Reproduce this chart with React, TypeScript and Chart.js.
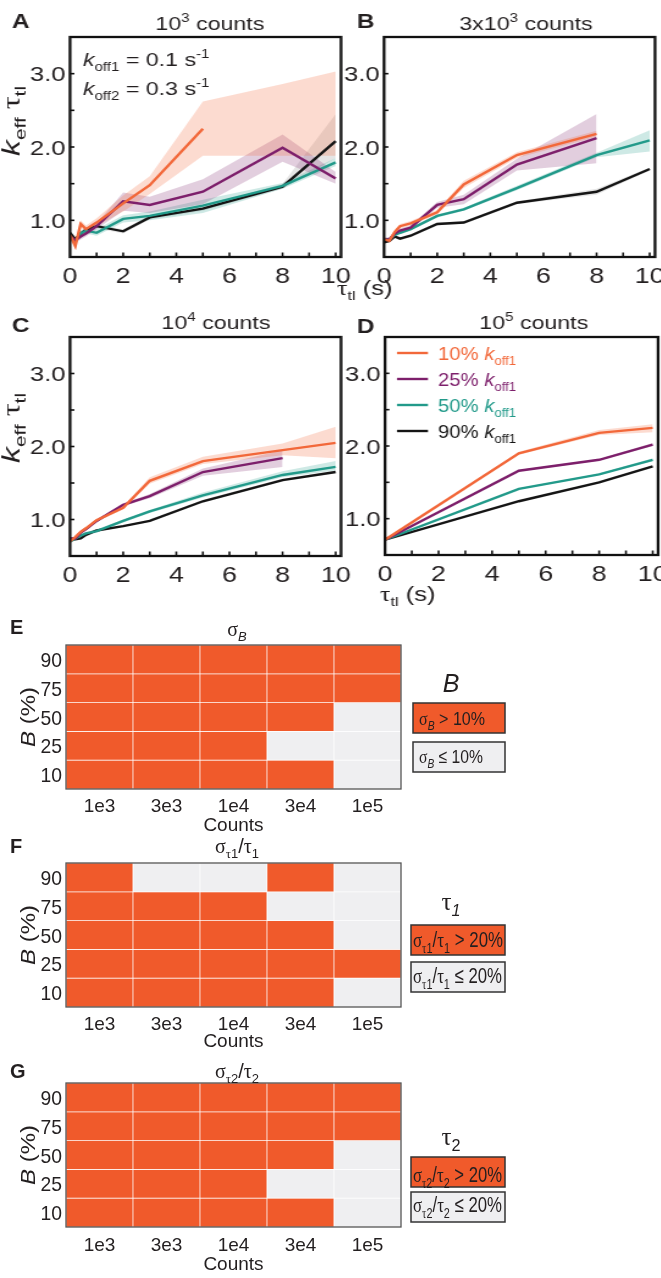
import React, { useEffect, useRef } from 'react';
import { Chart, registerables } from 'chart.js';

Chart.register(...registerables);

if (typeof document !== 'undefined') {
  document.body.style.margin = '0';
}

// ---------------- data ----------------
const TAU = [0, 0.2, 0.4, 0.6, 1, 2, 3, 5, 8, 10];
const TAU_D = [0, 5, 8, 10];
const X_TICKS = [0, 2, 4, 6, 8, 10];
const X_MINOR = [1, 2, 3, 4, 5, 6, 7, 8, 9, 10];
const Y_TICKS = [1, 2, 3];
const Y_MINOR = [1, 1.5, 2, 2.5, 3];
const SERIES_LABELS = ['10%', '25%', '50%', '90%'];

// Panel A (10^3 counts)
const A_OR = [0.8, 0.65, 0.95, 0.88, 0.97, 1.23, 1.48, 2.25, null, null];
const A_OR_LO = [0.74, 0.6, 0.9, 0.84, 0.92, 1.12, 1.36, 1.88, 1.88, 1.88];
const A_OR_HI = [0.86, 0.72, 1.0, 0.93, 1.03, 1.34, 1.6, 2.62, 2.86, 3.03];
const A_PU = [0.78, 0.73, 0.78, 0.82, 0.92, 1.26, 1.21, 1.39, 1.99, 1.57];
const A_PU_LO = [0.74, 0.69, 0.74, 0.78, 0.88, 1.13, 1.1, 1.22, 1.8, 1.5];
const A_PU_HI = [0.82, 0.77, 0.83, 0.86, 0.96, 1.38, 1.32, 1.56, 2.17, 1.66];
const A_TE = [0.76, 0.72, 0.82, 0.86, 0.83, 1.02, 1.06, 1.2, 1.47, 1.79];
const A_TE_LO = [0.72, 0.68, 0.78, 0.82, 0.79, 0.97, 1.0, 1.1, 1.43, 1.74];
const A_TE_HI = [0.8, 0.76, 0.86, 0.9, 0.88, 1.07, 1.12, 1.28, 1.51, 1.85];
const A_BK = [0.83, 0.74, 0.82, 0.87, 0.92, 0.85, 1.04, 1.16, 1.46, 2.08];
const A_BK_LO = [0.8, 0.71, 0.79, 0.84, 0.89, 0.82, 1.01, 1.13, 1.43, 1.85];
const A_BK_HI = [0.86, 0.77, 0.85, 0.9, 0.95, 0.88, 1.07, 1.19, 1.5, 2.45];

// Panel B (3x10^3 counts)
const B_OR = [0.74, 0.72, 0.84, 0.92, 0.96, 1.11, 1.49, 1.89, 2.18, null];
const B_OR_LO = [0.71, 0.69, 0.81, 0.89, 0.93, 1.08, 1.44, 1.85, 2.14, null];
const B_OR_HI = [0.77, 0.75, 0.87, 0.95, 0.99, 1.14, 1.54, 1.93, 2.22, null];
const B_PU = [0.74, 0.74, 0.82, 0.86, 0.9, 1.21, 1.29, 1.76, 2.12, null];
const B_PU_LO = [0.71, 0.71, 0.79, 0.83, 0.87, 1.17, 1.22, 1.68, 1.78, null];
const B_PU_HI = [0.77, 0.77, 0.85, 0.89, 0.93, 1.25, 1.35, 1.84, 2.45, null];
const B_TE = [0.74, 0.74, 0.8, 0.83, 0.88, 1.06, 1.15, 1.44, 1.89, 2.09];
const B_TE_LO = [0.72, 0.72, 0.78, 0.81, 0.86, 1.04, 1.13, 1.41, 1.86, 1.94];
const B_TE_HI = [0.76, 0.76, 0.82, 0.85, 0.9, 1.08, 1.17, 1.47, 1.92, 2.23];
const B_BK = [0.7, 0.72, 0.78, 0.75, 0.79, 0.95, 0.97, 1.24, 1.39, 1.7];
const B_BK_LO = [0.68, 0.7, 0.76, 0.73, 0.77, 0.93, 0.95, 1.22, 1.35, 1.68];
const B_BK_HI = [0.72, 0.74, 0.8, 0.77, 0.81, 0.97, 0.99, 1.26, 1.43, 1.72];

// Panel C (10^4 counts)
const C_OR = [0.7, 0.76, 0.83, 0.88, 0.99, 1.16, 1.53, 1.8, 1.95, 2.05];
const C_OR_LO = [0.68, 0.74, 0.81, 0.86, 0.97, 1.14, 1.49, 1.76, 1.88, 1.84];
const C_OR_HI = [0.72, 0.78, 0.85, 0.9, 1.01, 1.18, 1.58, 1.86, 2.04, 2.27];
const C_PU = [0.74, 0.74, 0.82, 0.87, 0.98, 1.2, 1.32, 1.65, 1.84, null];
const C_PU_LO = [0.72, 0.72, 0.8, 0.85, 0.96, 1.18, 1.29, 1.6, 1.72, null];
const C_PU_HI = [0.76, 0.76, 0.84, 0.89, 1.0, 1.22, 1.35, 1.7, 1.95, null];
const C_TE = [0.7, 0.74, 0.78, 0.81, 0.84, 0.98, 1.11, 1.33, 1.61, 1.72];
const C_TE_LO = [0.68, 0.72, 0.76, 0.79, 0.82, 0.96, 1.09, 1.3, 1.58, 1.67];
const C_TE_HI = [0.72, 0.76, 0.8, 0.83, 0.86, 1.0, 1.13, 1.37, 1.66, 1.8];
const C_BK = [0.71, 0.73, 0.74, 0.79, 0.85, 0.91, 0.98, 1.25, 1.54, 1.65];
const C_BK_LO = [0.7, 0.72, 0.73, 0.78, 0.84, 0.9, 0.97, 1.23, 1.52, 1.63];
const C_BK_HI = [0.72, 0.74, 0.75, 0.8, 0.86, 0.92, 0.99, 1.27, 1.56, 1.67];

// Panel D (10^5 counts)
const D_OR = [0.71, 1.9, 2.18, 2.25];
const D_OR_LO = [0.7, 1.88, 2.15, 2.19];
const D_OR_HI = [0.72, 1.92, 2.22, 2.3];
const D_PU = [0.71, 1.66, 1.81, 2.02];
const D_PU_LO = [0.7, 1.65, 1.8, 2.0];
const D_PU_HI = [0.72, 1.67, 1.82, 2.04];
const D_TE = [0.71, 1.41, 1.61, 1.81];
const D_TE_LO = [0.7, 1.4, 1.6, 1.79];
const D_TE_HI = [0.72, 1.42, 1.62, 1.83];
const D_BK = [0.71, 1.24, 1.5, 1.72];
const D_BK_LO = [0.7, 1.23, 1.49, 1.71];
const D_BK_HI = [0.72, 1.25, 1.51, 1.73];

// Heatmaps: rows B = 90,75,50,25,10 ; columns = counts ; 1 = above threshold
const COUNTS = ['1e3', '3e3', '1e4', '3e4', '1e5'];
const B_LEVELS = ['90', '75', '50', '25', '10'];
const E_SIGMA_B = [
  [1, 1, 1, 1, 1],
  [1, 1, 1, 1, 1],
  [1, 1, 1, 1, 0],
  [1, 1, 1, 0, 0],
  [1, 1, 1, 1, 0],
];
const F_SIGMA_T1 = [
  [1, 0, 0, 1, 0],
  [1, 1, 1, 0, 0],
  [1, 1, 1, 1, 0],
  [1, 1, 1, 1, 1],
  [1, 1, 1, 1, 0],
];
const G_SIGMA_T2 = [
  [1, 1, 1, 1, 1],
  [1, 1, 1, 1, 1],
  [1, 1, 1, 1, 0],
  [1, 1, 1, 0, 0],
  [1, 1, 1, 1, 0],
];

// ---------------- style ----------------
const S = 1.22; // horizontal stretch of the line panels
const SANS = '"Liberation Sans", Arial, Helvetica, sans-serif';
const SERIF = '"Liberation Serif", "Times New Roman", serif';
const TEXT = '#231f20';
const KEYS = ['or', 'pu', 'te', 'bk'];
const COLORS: Record<string, string> = { or: '#F2683A', pu: '#7D1F6B', te: '#229A8A', bk: '#151515' };
const BANDS: Record<string, string> = {
  or: 'rgba(242,104,58,0.24)',
  pu: 'rgba(125,31,107,0.22)',
  te: 'rgba(34,154,138,0.22)',
  bk: 'rgba(0,0,0,0.10)',
};
const HEAT_ON = '#F05A2B';
const HEAT_OFF = '#EFEFF1';

type Seg = { t: string; it?: boolean; sub?: boolean; sup?: boolean; g?: boolean };
type TextItem = {
  x: number; y: number; segs: Seg[]; size: number;
  align?: 'left' | 'center' | 'right'; color?: string; bold?: boolean; rot?: boolean; fitW?: number; sx?: number;
};

function segFont(s: Seg, size: number, bold: boolean) {
  const sz = s.sub || s.sup ? size * 0.65 : size;
  return `${s.it ? 'italic ' : ''}${bold ? 'bold ' : ''}${sz}px ${s.g ? SERIF : SANS}`;
}

function drawRich(ctx: CanvasRenderingContext2D, it: TextItem) {
  ctx.save();
  const bold = !!it.bold;
  let total = 0;
  const widths = it.segs.map((s) => {
    ctx.font = segFont(s, it.size, bold);
    const w = ctx.measureText(s.t).width;
    total += w;
    return w;
  });
  let sx = it.sx ?? 1;
  if (it.fitW) sx = it.fitW / total;
  ctx.translate(it.x, it.y);
  if (it.rot) ctx.rotate(-Math.PI / 2);
  ctx.scale(sx, 1);
  let x0 = it.align === 'center' ? -total / 2 : it.align === 'right' ? -total : 0;
  ctx.textBaseline = 'alphabetic';
  ctx.textAlign = 'left';
  ctx.fillStyle = it.color ?? TEXT;
  it.segs.forEach((s, i) => {
    ctx.font = segFont(s, it.size, bold);
    const dy = s.sub ? it.size * 0.25 : s.sup ? -it.size * 0.4 : 0;
    ctx.fillText(s.t, x0, dy);
    x0 += widths[i];
  });
  ctx.restore();
}

const Y_TITLE: Seg[] = [{ t: 'k', it: true }, { t: 'eff', sub: true }, { t: ' τ', g: true }, { t: 'tl', sub: true }];
const X_TITLE: Seg[] = [{ t: 'τ', g: true }, { t: 'tl', sub: true }, { t: ' (s)' }];

type LineSpec = {
  id: string; left: number; top: number; w: number; h: number;
  area: { l: number; r: number; t: number; b: number };
  x: number[]; series: Record<string, (number | null)[][]>; texts: TextItem[]; legend?: boolean;
};

const LINE_PANELS: LineSpec[] = [
  {
    id: 'A', left: 0, top: 0, w: 290, h: 305, area: { l: 57.4, r: 279.5, t: 37, b: 257 }, x: TAU,
    series: { or: [A_OR, A_OR_LO, A_OR_HI], pu: [A_PU, A_PU_LO, A_PU_HI], te: [A_TE, A_TE_LO, A_TE_HI], bk: [A_BK, A_BK_LO, A_BK_HI] },
    texts: [
      { x: 9.8, y: 28, segs: [{ t: 'A' }], size: 20, bold: true },
      { x: 172, y: 30, segs: [{ t: '10' }, { t: '3', sup: true }, { t: ' counts' }], size: 19, align: 'center' },
      { x: 68, y: 66, segs: [{ t: 'k', it: true }, { t: 'off1', sub: true }, { t: ' = 0.1 s' }, { t: '-1', sup: true }], size: 19 },
      { x: 68, y: 95, segs: [{ t: 'k', it: true }, { t: 'off2', sub: true }, { t: ' = 0.3 s' }, { t: '-1', sup: true }], size: 19 },
      { x: 15.5, y: 121, segs: Y_TITLE, size: 20, align: 'center', rot: true, fitW: 70 },
    ],
  },
  {
    id: 'B', left: 330, top: 0, w: 271, h: 305, area: { l: 44.3, r: 266.4, t: 37, b: 257 }, x: TAU,
    series: { or: [B_OR, B_OR_LO, B_OR_HI], pu: [B_PU, B_PU_LO, B_PU_HI], te: [B_TE, B_TE_LO, B_TE_HI], bk: [B_BK, B_BK_LO, B_BK_HI] },
    texts: [
      { x: 22.1, y: 28, segs: [{ t: 'B' }], size: 20, bold: true },
      { x: 160.7, y: 30, segs: [{ t: '3x10' }, { t: '3', sup: true }, { t: ' counts' }], size: 19, align: 'center' },
      { x: 5.7, y: 295, segs: X_TITLE, size: 21 },
    ],
  },
  {
    id: 'C', left: 0, top: 300, w: 290, h: 310, area: { l: 57.4, r: 279.5, t: 37, b: 256 }, x: TAU,
    series: { or: [C_OR, C_OR_LO, C_OR_HI], pu: [C_PU, C_PU_LO, C_PU_HI], te: [C_TE, C_TE_LO, C_TE_HI], bk: [C_BK, C_BK_LO, C_BK_HI] },
    texts: [
      { x: 9.8, y: 32, segs: [{ t: 'C' }], size: 20, bold: true },
      { x: 177, y: 29, segs: [{ t: '10' }, { t: '4', sup: true }, { t: ' counts' }], size: 19, align: 'center' },
      { x: 15.5, y: 128, segs: Y_TITLE, size: 20, align: 'center', rot: true, fitW: 70 },
    ],
  },
  {
    id: 'D', left: 330, top: 300, w: 271, h: 310, area: { l: 45.1, r: 268.9, t: 37, b: 255 }, x: TAU_D,
    series: { or: [D_OR, D_OR_LO, D_OR_HI], pu: [D_PU, D_PU_LO, D_PU_HI], te: [D_TE, D_TE_LO, D_TE_HI], bk: [D_BK, D_BK_LO, D_BK_HI] },
    texts: [
      { x: 22.1, y: 33, segs: [{ t: 'D' }], size: 20, bold: true },
      { x: 167, y: 29, segs: [{ t: '10' }, { t: '5', sup: true }, { t: ' counts' }], size: 19, align: 'center' },
      { x: 41, y: 301, segs: X_TITLE, size: 21 },
    ],
    legend: true,
  },
];

function linePlugin(spec: LineSpec) {
  return {
    id: 'frame' + spec.id,
    afterDraw(chart: any) {
      const ctx: CanvasRenderingContext2D = chart.ctx;
      const { left, right, top, bottom } = chart.chartArea;
      const xs = chart.scales.x;
      const ys = chart.scales.y;
      ctx.save();
      ctx.strokeStyle = '#111';
      ctx.lineWidth = 1.6;
      X_MINOR.forEach((v) => {
        const p = xs.getPixelForValue(v);
        ctx.beginPath(); ctx.moveTo(p, bottom); ctx.lineTo(p, bottom - 4.5); ctx.stroke();
      });
      Y_MINOR.forEach((v) => {
        const p = ys.getPixelForValue(v);
        ctx.beginPath(); ctx.moveTo(left, p); ctx.lineTo(left + 3.6, p); ctx.stroke();
      });
      ctx.lineWidth = 2.3;
      ctx.strokeRect(left, top, right - left, bottom - top);
      ctx.restore();
      X_TICKS.forEach((v) =>
        drawRich(ctx, { x: xs.getPixelForValue(v), y: bottom + 26, segs: [{ t: String(v) }], size: 22, align: 'center' })
      );
      Y_TICKS.forEach((v) =>
        drawRich(ctx, { x: left - 3.6, y: ys.getPixelForValue(v) + 7.5, segs: [{ t: v.toFixed(1) }], size: 21, align: 'right' })
      );
      spec.texts.forEach((t) => drawRich(ctx, t));
      if (spec.legend) {
        KEYS.forEach((k, i) => {
          const y = 53 + i * 26;
          ctx.save();
          ctx.strokeStyle = COLORS[k];
          ctx.lineWidth = 2.4;
          ctx.beginPath(); ctx.moveTo(54.9, y); ctx.lineTo(80.3, y); ctx.stroke();
          ctx.restore();
          drawRich(ctx, {
            x: 88.5, y: y + 7, size: 19, color: COLORS[k], fitW: 64,
            segs: [{ t: SERIES_LABELS[i] + ' ' }, { t: 'k', it: true }, { t: 'off1', sub: true }],
          });
        });
      }
    },
  };
}

function lineConfig(spec: LineSpec): any {
  const datasets: any[] = [];
  KEYS.forEach((k, si) => {
    const [yv, lo, hi] = spec.series[k];
    const pts = (arr: (number | null)[]) => spec.x.map((xv, i) => ({ x: xv, y: arr[i] }));
    datasets.push({
      label: k + '_lo', data: pts(lo), borderWidth: 0, pointRadius: 0, fill: false,
      borderColor: 'rgba(0,0,0,0)', backgroundColor: 'rgba(0,0,0,0)', order: 20 + si,
    });
    datasets.push({
      label: k + '_hi', data: pts(hi), borderWidth: 0, pointRadius: 0, fill: '-1',
      borderColor: 'rgba(0,0,0,0)', backgroundColor: BANDS[k], order: 20 + si,
    });
    datasets.push({
      label: k, data: pts(yv), borderColor: COLORS[k], borderWidth: 2.4, pointRadius: 0,
      fill: false, tension: 0, order: 1 + si, borderJoinStyle: 'miter',
    });
  });
  return {
    type: 'line',
    data: { datasets },
    options: {
      responsive: false,
      animation: false,
      events: [],
      layout: { padding: { left: spec.area.l, right: spec.w - spec.area.r, top: spec.area.t, bottom: spec.h - spec.area.b } },
      scales: {
        x: { type: 'linear', min: 0, max: 10.2, display: false },
        y: { type: 'linear', min: 0.5, max: 3.5, display: false },
      },
      plugins: { legend: { display: false }, tooltip: { enabled: false }, title: { display: false } },
    },
    plugins: [linePlugin(spec)],
  };
}

function LinePanel({ spec }: { spec: LineSpec }) {
  const ref = useRef<HTMLCanvasElement>(null);
  useEffect(() => {
    const chart = new Chart(ref.current as HTMLCanvasElement, lineConfig(spec));
    return () => chart.destroy();
  }, [spec]);
  return (
    <div style={{ position: 'absolute', left: spec.left, top: spec.top, width: spec.w, height: spec.h, transform: `scaleX(${S})`, transformOrigin: '0 0' }}>
      <canvas ref={ref} width={spec.w} height={spec.h} style={{ display: 'block', width: spec.w, height: spec.h }} />
    </div>
  );
}

// ---------------- heatmaps ----------------
type Box = { x: number; y: number; w: number; h: number; fill: string; text: TextItem };
type HeatSpec = {
  id: string; top: number; h: number; area: { l: number; r: number; t: number; b: number };
  map: number[][]; xLabelY: number; countsY: number; texts: TextItem[]; boxes: Box[];
};

const BY_TITLE: Seg[] = [{ t: 'B', it: true }, { t: ' (%)' }];

const HEAT_PANELS: HeatSpec[] = [
  {
    id: 'E', top: 615, h: 230, area: { l: 66, r: 401, t: 30, b: 174 }, map: E_SIGMA_B, xLabelY: 197, countsY: 216,
    texts: [
      { x: 10, y: 19, segs: [{ t: 'E' }], size: 20, bold: true },
      { x: 237, y: 21, segs: [{ t: 'σ', g: true }, { t: 'B', sub: true, it: true }], size: 20, align: 'center' },
      { x: 35, y: 102, segs: BY_TITLE, size: 21, align: 'center', rot: true, fitW: 60 },
      { x: 451, y: 77, segs: [{ t: 'B', it: true }], size: 25, align: 'center' },
    ],
    boxes: [
      { x: 413, y: 88, w: 92, h: 30, fill: HEAT_ON, text: { x: 419, y: 110, size: 19, fitW: 66, segs: [{ t: 'σ', g: true }, { t: 'B', sub: true, it: true }, { t: ' > 10%' }] } },
      { x: 413, y: 127, w: 92, h: 30, fill: HEAT_OFF, text: { x: 419, y: 148, size: 19, fitW: 64, segs: [{ t: 'σ', g: true }, { t: 'B', sub: true, it: true }, { t: ' ≤ 10%' }] } },
    ],
  },
  {
    id: 'F', top: 835, h: 215, area: { l: 66, r: 401, t: 28, b: 172 }, map: F_SIGMA_T1, xLabelY: 195, countsY: 212,
    texts: [
      { x: 10, y: 18, segs: [{ t: 'F' }], size: 20, bold: true },
      { x: 237, y: 18, segs: [{ t: 'σ', g: true }, { t: 'τ', g: true, sub: true }, { t: '1', sub: true }, { t: '/' }, { t: 'τ', g: true }, { t: '1', sub: true }], size: 20, align: 'center' },
      { x: 35, y: 100, segs: BY_TITLE, size: 21, align: 'center', rot: true, fitW: 60 },
      { x: 451, y: 75, segs: [{ t: 'τ', g: true }, { t: '1', sub: true, it: true }], size: 25, align: 'center' },
    ],
    boxes: [
      { x: 411, y: 90, w: 94, h: 30, fill: HEAT_ON, text: { x: 413, y: 112, size: 22, fitW: 90, segs: [{ t: 'σ', g: true }, { t: 'τ', g: true, sub: true }, { t: '1', sub: true }, { t: '/' }, { t: 'τ', g: true }, { t: '1', sub: true }, { t: ' > 20%' }] } },
      { x: 411, y: 127, w: 94, h: 30, fill: HEAT_OFF, text: { x: 413, y: 148, size: 22, fitW: 89, segs: [{ t: 'σ', g: true }, { t: 'τ', g: true, sub: true }, { t: '1', sub: true }, { t: '/' }, { t: 'τ', g: true }, { t: '1', sub: true }, { t: ' ≤ 20%' }] } },
    ],
  },
  {
    id: 'G', top: 1050, h: 228, area: { l: 66, r: 401, t: 33, b: 177 }, map: G_SIGMA_T2, xLabelY: 201, countsY: 220,
    texts: [
      { x: 10, y: 28, segs: [{ t: 'G' }], size: 20, bold: true },
      { x: 237, y: 28, segs: [{ t: 'σ', g: true }, { t: 'τ', g: true, sub: true }, { t: '2', sub: true }, { t: '/' }, { t: 'τ', g: true }, { t: '2', sub: true }], size: 20, align: 'center' },
      { x: 35, y: 105, segs: BY_TITLE, size: 21, align: 'center', rot: true, fitW: 60 },
      { x: 451, y: 95, segs: [{ t: 'τ', g: true }, { t: '2', sub: true }], size: 25, align: 'center' },
    ],
    boxes: [
      { x: 411, y: 107, w: 94, h: 30, fill: HEAT_ON, text: { x: 413, y: 132, size: 22, fitW: 89, segs: [{ t: 'σ', g: true }, { t: 'τ', g: true, sub: true }, { t: '2', sub: true }, { t: '/' }, { t: 'τ', g: true }, { t: '2', sub: true }, { t: ' > 20%' }] } },
      { x: 411, y: 142, w: 94, h: 30, fill: HEAT_OFF, text: { x: 413, y: 162, size: 22, fitW: 89, segs: [{ t: 'σ', g: true }, { t: 'τ', g: true, sub: true }, { t: '2', sub: true }, { t: '/' }, { t: 'τ', g: true }, { t: '2', sub: true }, { t: ' ≤ 20%' }] } },
    ],
  },
];

function heatPlugin(spec: HeatSpec) {
  return {
    id: 'heat' + spec.id,
    afterDraw(chart: any) {
      const ctx: CanvasRenderingContext2D = chart.ctx;
      const { left, right, top, bottom } = chart.chartArea;
      const xs = chart.scales.x;
      const ys = chart.scales.y;
      ctx.save();
      ctx.strokeStyle = '#555';
      ctx.lineWidth = 1.3;
      ctx.strokeRect(left, top, right - left, bottom - top);
      ctx.restore();
      B_LEVELS.forEach((lab, i) => {
        const r = B_LEVELS.length - 1 - i;
        drawRich(ctx, { x: 62, y: ys.getPixelForValue(r + 0.5) + 7.5, segs: [{ t: lab }], size: 21, align: 'right', sx: 0.92 });
      });
      COUNTS.forEach((c, i) => {
        drawRich(ctx, { x: xs.getPixelForValue(i), y: spec.xLabelY, segs: [{ t: c }], size: 19, align: 'center' });
      });
      drawRich(ctx, { x: (left + right) / 2, y: spec.countsY, segs: [{ t: 'Counts' }], size: 19, align: 'center' });
      spec.texts.forEach((t) => drawRich(ctx, t));
      spec.boxes.forEach((b) => {
        ctx.save();
        ctx.fillStyle = b.fill;
        ctx.fillRect(b.x, b.y, b.w, b.h);
        ctx.strokeStyle = '#333';
        ctx.lineWidth = 1.5;
        ctx.strokeRect(b.x, b.y, b.w, b.h);
        ctx.restore();
        drawRich(ctx, b.text);
      });
    },
  };
}

function heatConfig(spec: HeatSpec): any {
  const datasets = B_LEVELS.map((lab, i) => {
    const r = B_LEVELS.length - 1 - i;
    return {
      label: lab,
      data: COUNTS.map(() => [r, r + 1]),
      backgroundColor: spec.map[i].map((v) => (v ? HEAT_ON : HEAT_OFF)),
      borderColor: '#ffffff',
      borderWidth: 0.7,
      borderSkipped: false,
      barPercentage: 1,
      categoryPercentage: 1,
      grouped: false,
    };
  });
  return {
    type: 'bar',
    data: { labels: COUNTS, datasets },
    options: {
      responsive: false,
      animation: false,
      events: [],
      layout: { padding: { left: spec.area.l, right: 661 - spec.area.r, top: spec.area.t, bottom: spec.h - spec.area.b } },
      scales: {
        x: { type: 'category', display: false, offset: true },
        y: { type: 'linear', min: 0, max: 5, display: false },
      },
      plugins: { legend: { display: false }, tooltip: { enabled: false } },
    },
    plugins: [heatPlugin(spec)],
  };
}

function HeatPanel({ spec }: { spec: HeatSpec }) {
  const ref = useRef<HTMLCanvasElement>(null);
  useEffect(() => {
    const chart = new Chart(ref.current as HTMLCanvasElement, heatConfig(spec));
    return () => chart.destroy();
  }, [spec]);
  return (
    <div style={{ position: 'absolute', left: 0, top: spec.top, width: 661, height: spec.h }}>
      <canvas ref={ref} width={661} height={spec.h} style={{ display: 'block', width: 661, height: spec.h }} />
    </div>
  );
}

export default function App() {
  return (
    <div style={{ position: 'relative', width: 661, height: 1278, overflow: 'hidden', background: '#fff' }}>
      {LINE_PANELS.map((p) => (
        <LinePanel key={p.id} spec={p} />
      ))}
      {HEAT_PANELS.map((p) => (
        <HeatPanel key={p.id} spec={p} />
      ))}
    </div>
  );
}
